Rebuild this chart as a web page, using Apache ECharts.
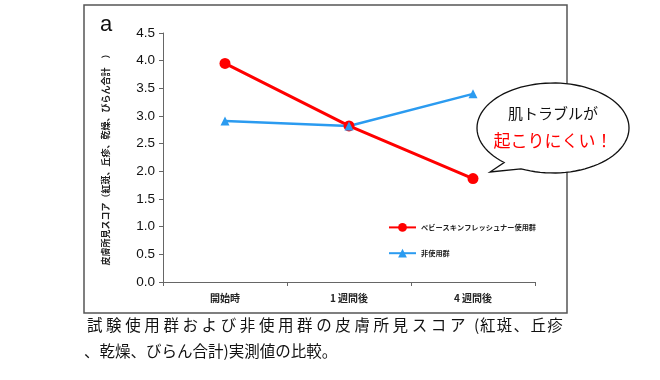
<!DOCTYPE html>
<html><head><meta charset="utf-8">
<script src="https://cdn.jsdelivr.net/npm/echarts@6/dist/echarts.min.js"></script>
<style>html,body{margin:0;padding:0;background:#fff}#c{width:660px;height:380px}</style>
</head><body><div id="c"></div>
<script>
const categories = ['開始時', '1 週間後', '4 週間後'];
const seriesNames = ['ベビースキンフレッシュナー使用群', '非使用群'];
const usedValues = [3.95, 2.82, 1.87];
const unusedValues = [2.91, 2.82, 3.40];
const yTicks = [0, 4.5, 0.5]; // min, max, interval

const FONT = '"Noto Sans CJK JP", "Noto Sans", sans-serif';
const captionA = '試験使用群および非使用群の皮膚所見スコア';
const captionParen = '(';
const captionB = '紅斑、丘疹';
const captionC = '、乾燥、びらん合計)実測値の比較。';

// speech bubble outline (decoration)
function bubblePoints(cx, cy, rx, ry, a0, a1, tip) {
  const pts = [];
  const start = a0 * Math.PI / 180, end = (a1 - 360) * Math.PI / 180;
  const n = 90;
  for (let i = 0; i <= n; i++) {
    const t = start + (end - start) * i / n;
    pts.push([cx + rx * Math.cos(t), cy + ry * Math.sin(t)]);
  }
  pts.push(tip);
  return pts;
}

const graphics = [
  { type: 'rect', z: 0, shape: { x: 84, y: 5, width: 483, height: 308 },
    style: { fill: 'none', stroke: '#555', lineWidth: 1.5 } },
  { type: 'text', z: 10, x: 100, y: 14, style: { text: 'a', fontSize: 22, fontFamily: '"Liberation Sans", Arial, sans-serif', fill: '#111' } },
  { type: 'polygon', z: 20, shape: { points: bubblePoints(553, 128, 76, 45, 115, 130, [490, 172]) },
    style: { fill: '#fff', stroke: '#111', lineWidth: 1.3 } },
  { type: 'text', z: 21, x: 553, y: 113, style: { text: '肌トラブルが', fontSize: 15, fill: '#111', align: 'center', verticalAlign: 'middle', fontFamily: FONT } },
  { type: 'text', z: 21, x: 553, y: 141, style: { text: '起こりにくい！', fontSize: 17, fill: '#f00', align: 'center', verticalAlign: 'middle', fontFamily: FONT } },
  { type: 'text', z: 10, x: 474, y: 325, style: { text: captionParen, fontSize: 15.5, fill: '#111', verticalAlign: 'middle', fontFamily: FONT } },
  { type: 'text', z: 10, x: 84, y: 351, style: { text: captionC, fontSize: 15.5, fill: '#111', verticalAlign: 'middle', fontFamily: FONT } }
];
Array.from(captionA).forEach((ch, i) => {
  graphics.push({ type: 'text', z: 10, x: 87 + i * 19.1, y: 325,
    style: { text: ch, fontSize: 15.5, fill: '#111', verticalAlign: 'middle', fontFamily: FONT } });
});
Array.from(captionB).forEach((ch, i) => {
  graphics.push({ type: 'text', z: 10, x: 480 + i * 16.8, y: 325,
    style: { text: ch, fontSize: 15.5, fill: '#111', verticalAlign: 'middle', fontFamily: FONT } });
});

const chart = echarts.init(document.getElementById('c'));
chart.setOption({
  animation: false,
  textStyle: { fontFamily: FONT },
  grid: { left: 163, right: 125, top: 33, bottom: 98 },
  legend: {
    orient: 'vertical', left: 383, top: 218, itemGap: 17,
    itemWidth: 27, itemHeight: 11,
    textStyle: { fontSize: 7.2, fontWeight: 'bold', color: '#222', fontFamily: FONT },
    data: seriesNames
  },
  xAxis: {
    type: 'category', data: categories, boundaryGap: true,
    axisLine: { lineStyle: { color: '#666', width: 1 } },
    axisTick: { show: true, alignWithLabel: false, length: 4, lineStyle: { color: '#666' } },
    axisLabel: { fontSize: 10, fontWeight: 'bold', color: '#222', margin: 11, fontFamily: FONT },
    splitLine: { show: false }
  },
  yAxis: {
    type: 'value', min: yTicks[0], max: yTicks[1], interval: yTicks[2],
    name: '皮膚所見スコア（紅斑、丘疹、乾燥、びらん合計　）',
    nameLocation: 'middle', nameGap: 53, nameRotate: 90,
    nameTextStyle: { fontSize: 9, fontWeight: 'bold', color: '#222', fontFamily: FONT },
    axisLine: { show: true, lineStyle: { color: '#666', width: 1 } },
    axisTick: { show: true, length: 4, lineStyle: { color: '#666' } },
    axisLabel: { fontSize: 13.5, color: '#111', margin: 8, formatter: v => v.toFixed(1), fontFamily: '"Liberation Sans", Arial, sans-serif' },
    splitLine: { show: false }
  },
  series: [
    { name: seriesNames[0], type: 'line', data: usedValues, symbol: 'circle', symbolSize: 11,
      lineStyle: { color: '#f00', width: 3 }, itemStyle: { color: '#f00' } },
    { name: seriesNames[1], type: 'line', data: unusedValues, symbol: 'triangle', symbolSize: 9,
      lineStyle: { color: '#2b9bf0', width: 2.5 }, itemStyle: { color: '#2b9bf0' } }
  ],
  graphic: graphics
});
</script></body></html>
